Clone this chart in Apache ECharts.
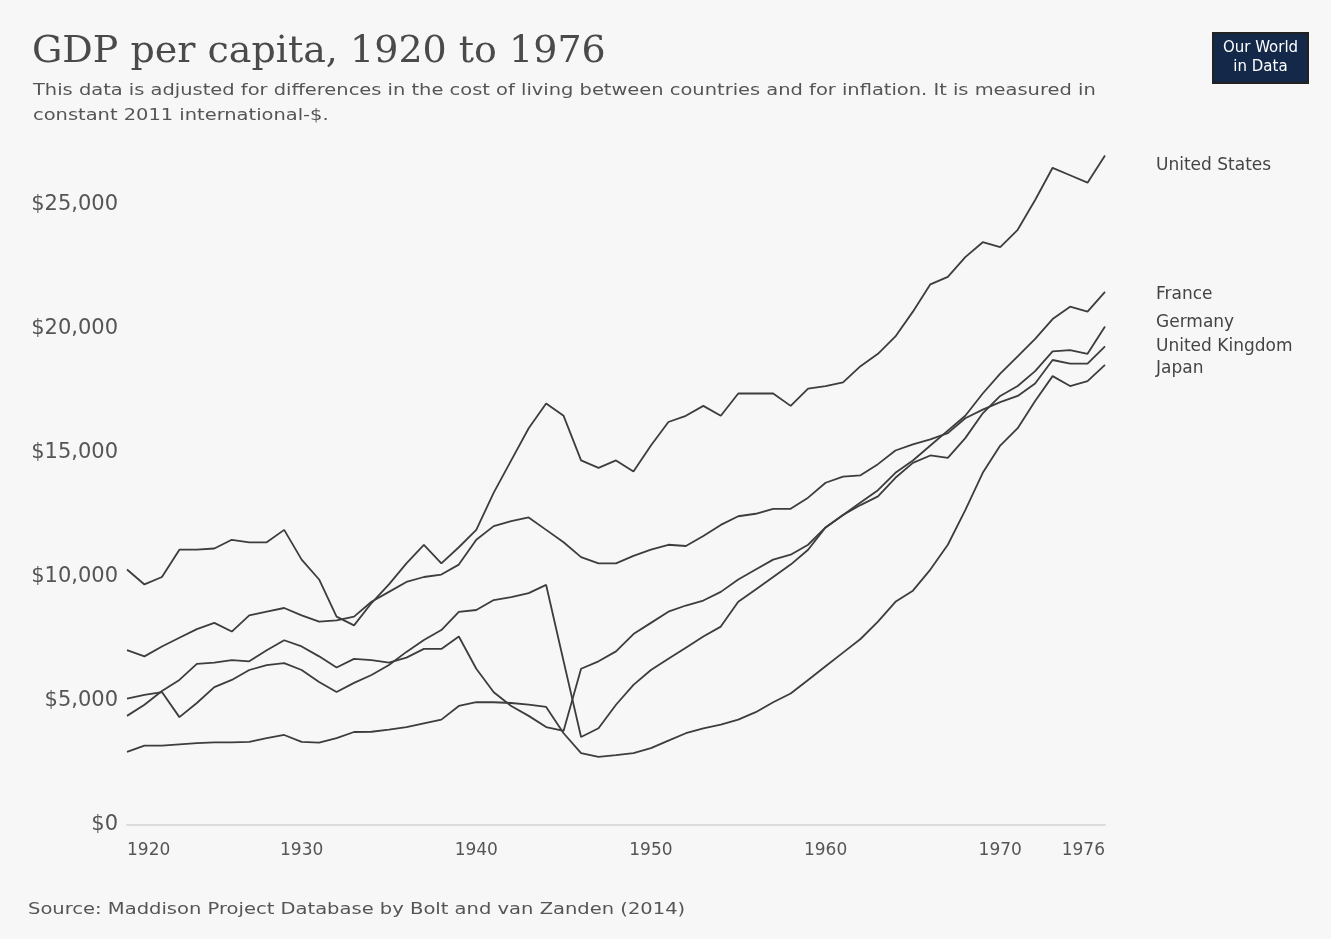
<!DOCTYPE html>
<html>
<head>
<meta charset="utf-8">
<script src="https://cdn.jsdelivr.net/npm/echarts@6/dist/echarts.min.js"></script>
<style>
html,body{margin:0;padding:0;background:#f7f7f7;}
#chart{width:1331px;height:939px;}
</style>
</head>
<body>
<div id="chart"></div>
<script>
const years = [];
for (let y = 1920; y <= 1976; y++) years.push(y);

const xTickLabels = [1920, 1930, 1940, 1950, 1960, 1970, 1976];
const yTickLabels = [0, 5000, 10000, 15000, 20000, 25000];

const unitedStates = [10300, 9700, 10000, 11100, 11100, 11150, 11500, 11400, 11400, 11900,
  10700, 9900, 8400, 8050, 8950, 9700, 10550, 11300, 10550, 11200,
  11900, 13400, 14700, 16000, 17000, 16500, 14700, 14400, 14700, 14250,
  15300, 16250, 16500, 16900, 16500, 17400, 17400, 17400, 16900, 17600,
  17700, 17850, 18500, 19000, 19700, 20700, 21800, 22100, 22900, 23500,
  23300, 24000, 25200, 26500, 26200, 25900, 27000];

const france = [4400, 4850, 5400, 5850, 6500, 6550, 6650, 6600, 7050, 7450,
  7200, 6800, 6350, 6700, 6650, 6550, 6750, 7100, 7100, 7600,
  6300, 5350, 4800, 4400, 3950, 3800, 6300, 6600, 7000, 7700,
  8150, 8600, 8850, 9050, 9400, 9900, 10300, 10700, 10900, 11300,
  12000, 12500, 13000, 13500, 14200, 14700, 15300, 15900, 16500, 17400,
  18200, 18900, 19600, 20400, 20900, 20700, 21500];

const germany = [5100, 5250, 5360, 4350, 4920, 5560, 5850, 6250, 6450, 6530,
  6250, 5770, 5360, 5730, 6050, 6450, 6980, 7460, 7860, 8590,
  8670, 9070, 9190, 9350, 9680, 6600, 3550, 3900, 4850, 5650,
  6250, 6700, 7150, 7600, 8000, 9000, 9500, 10000, 10500, 11100,
  12000, 12500, 12900, 13250, 14000, 14600, 14900, 14800, 15600, 16600,
  17300, 17700, 18300, 19100, 19150, 19000, 20100];

const unitedKingdom = [7050, 6800, 7200, 7550, 7900, 8150, 7800, 8450, 8600, 8750,
  8450, 8200, 8250, 8400, 9000, 9400, 9800, 10000, 10100, 10500,
  11500, 12050, 12250, 12400, 11900, 11400, 10800, 10550, 10550, 10850,
  11100, 11300, 11250, 11650, 12100, 12450, 12550, 12750, 12750, 13200,
  13800, 14050, 14100, 14550, 15100, 15350, 15550, 15800, 16400, 16750,
  17050, 17300, 17800, 18750, 18600, 18600, 19300];

const japan = [2950, 3200, 3200, 3250, 3300, 3330, 3330, 3350, 3500, 3630,
  3350, 3320, 3500, 3750, 3760, 3850, 3950, 4100, 4250, 4800,
  4950, 4950, 4920, 4850, 4760, 3700, 2900, 2750, 2820, 2900,
  3100, 3400, 3700, 3900, 4050, 4250, 4550, 4950, 5300, 5850,
  6400, 6950, 7500, 8200, 9000, 9450, 10300, 11300, 12700, 14200,
  15300, 16000, 17100, 18100, 17700, 17900, 18550];

const seriesNames = ['United States', 'France', 'Germany', 'United Kingdom', 'Japan'];
const seriesValues = [unitedStates, france, germany, unitedKingdom, japan];
const labelOffsets = [[0, 10], [0, 3], [0, -4], [0, 0], [0, 4]];

const chart = echarts.init(document.getElementById('chart'));
const FONT = 'DejaVu Sans';

const series = seriesNames.map((name, i) => ({
  name: name,
  type: 'line',
  data: years.map((yr, k) => [yr, seriesValues[i][k]]),
  showSymbol: false,
  symbol: 'none',
  lineStyle: { color: '#3d3d3d', width: 1.8 },
  itemStyle: { color: '#3d3d3d' },
  endLabel: {
    show: true,
    formatter: '{a}',
    distance: 51,
    offset: labelOffsets[i],
    color: '#444',
    fontFamily: FONT,
    fontSize: 17
  },
  animation: false
}));

chart.setOption({
  backgroundColor: '#f7f7f7',
  animation: false,
  graphic: [
    {
      type: 'text', x: 32, y: 52,
      style: { x: 0, y: 0, text: 'GDP per capita, 1920 to 1976', verticalAlign: 'middle', fill: '#4a4a4a',
        font: '38px "DejaVu Serif"' }
    },
    {
      type: 'text', x: 33, y: 91, scaleX: 1.215,
      style: { x: 0, y: 0, text: 'This data is adjusted for differences in the cost of living between countries and for inflation. It is measured in',
        verticalAlign: 'middle', fill: '#555', font: '16px "DejaVu Sans"' }
    },
    {
      type: 'text', x: 33, y: 116, scaleX: 1.215,
      style: { x: 0, y: 0, text: 'constant 2011 international-$.',
        verticalAlign: 'middle', fill: '#555', font: '16px "DejaVu Sans"' }
    },
    {
      type: 'text', x: 28, y: 910, scaleX: 1.22,
      style: { x: 0, y: 0, text: 'Source: Maddison Project Database by Bolt and van Zanden (2014)',
        verticalAlign: 'middle', fill: '#555', font: '16px "DejaVu Sans"' }
    },
    {
      type: 'group', x: 1213, y: 33,
      children: [
        { type: 'rect', shape: { x: 0, y: 0, width: 95, height: 50 }, style: { fill: '#14294a', stroke: '#222', lineWidth: 2 } },
        { type: 'text', style: { x: 47.5, y: 15, text: 'Our World', align: 'center', verticalAlign: 'middle', fill: '#ffffff', font: '15px "DejaVu Sans"' } },
        { type: 'text', style: { x: 47.5, y: 34, text: 'in Data', align: 'center', verticalAlign: 'middle', fill: '#ffffff', font: '15px "DejaVu Sans"' } }
      ]
    }
  ],
  grid: { left: 127, right: 226, top: 81, bottom: 114, containLabel: false },
  xAxis: {
    type: 'value',
    min: 1920, max: 1976, interval: 10,
    axisLine: { show: true, lineStyle: { color: '#dcdcdc', width: 2 } },
    axisTick: { show: false },
    splitLine: { show: false },
    axisLabel: {
      color: '#555', fontFamily: FONT, fontSize: 17, margin: 17,
      showMinLabel: true, showMaxLabel: true,
      alignMinLabel: 'left', alignMaxLabel: 'right',
      padding: [0, 0, 0, 0],
      formatter: v => (xTickLabels.indexOf(v) >= 0 ? String(v) : '')
    }
  },
  yAxis: {
    type: 'value',
    min: 0, max: 30000, interval: 5000,
    axisLine: { show: false },
    axisTick: { show: false },
    splitLine: { show: false },
    axisLabel: {
      color: '#555', fontFamily: FONT, fontSize: 21, margin: 9,
      formatter: v => (yTickLabels.indexOf(v) >= 0 ? '$' + v.toLocaleString('en-US') : '')
    }
  },
  series: series
});
</script>
</body>
</html>
